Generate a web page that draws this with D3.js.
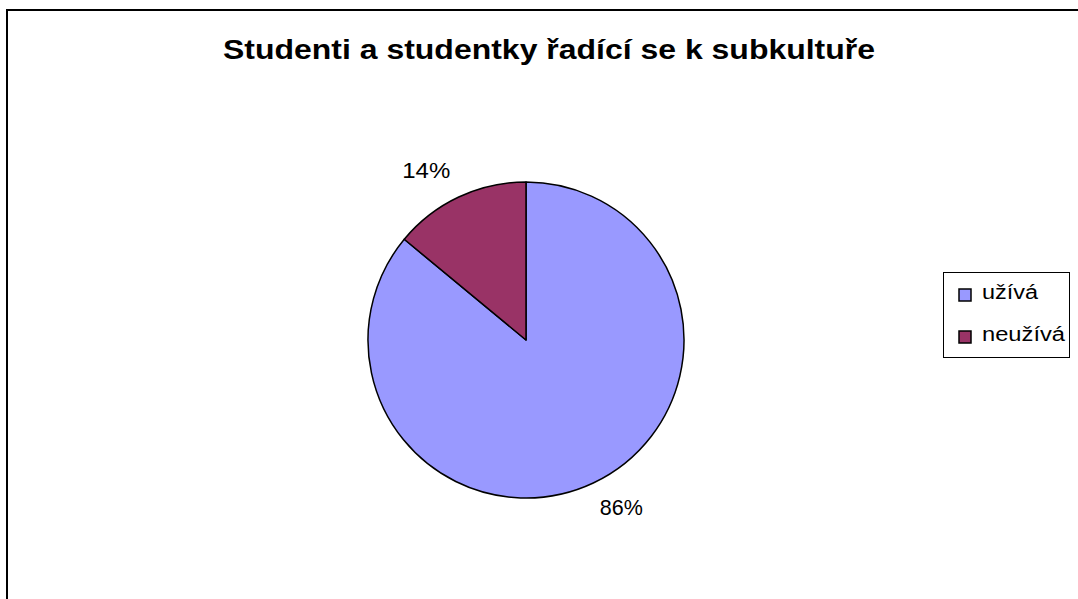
<!DOCTYPE html>
<html><head><meta charset="utf-8">
<script src="https://cdn.jsdelivr.net/npm/d3@7"></script>
<style>body{margin:0;background:#fff}svg{display:block}</style>
</head><body>
<svg id="chart" width="1078" height="599"></svg>
<script>
const title = "Studenti a studentky řadící se k subkultuře";
const categories = ["užívá", "neužívá"];
const values = [86, 14];
const labels = ["86%", "14%"];
const colors = ["#9999FF", "#993366"];

const svg = d3.select("#chart");
const font = "Arial, 'Liberation Sans', sans-serif";

// outer chart border (only top and left edges are inside the picture)
svg.append("path").attr("d", "M7,700 V10 H1100")
  .attr("fill", "none").attr("stroke", "#000").attr("stroke-width", 2);

svg.append("text").attr("x", 223).attr("y", 59)
  .attr("font-family", font).attr("font-weight", "bold").attr("font-size", 27)
  .attr("textLength", 652).attr("lengthAdjust", "spacingAndGlyphs")
  .text(title);

const cx = 526, cy = 340, r = 158;
const pie = d3.pie().sort(null).value(d => d)(values);
const arc = d3.arc().innerRadius(0).outerRadius(r);
const g = svg.append("g").attr("transform", `translate(${cx},${cy})`);
g.selectAll("path").data(pie).join("path")
  .attr("d", arc).attr("fill", (d, i) => colors[i])
  .attr("stroke", "#000").attr("stroke-width", 1.5).attr("stroke-linejoin", "round");

// percentage labels placed outside the slices
const labelArc = d3.arc().innerRadius(r + 20).outerRadius(r + 20);
const labelWidths = [43, 48];
g.selectAll("text.lbl").data(pie).join("text").attr("class", "lbl")
  .each(function (d, i) {
    const [x, y] = labelArc.centroid(d);
    const w = labelWidths[i];
    const sx = x < 0 ? x - w : x - 2;
    const ly = y < 0 ? y - 1 : y + 14;
    d3.select(this).attr("x", sx).attr("y", ly)
      .attr("textLength", w).attr("lengthAdjust", "spacingAndGlyphs");
  })
  .attr("font-family", font).attr("font-size", 22).text((d, i) => labels[i]);

// legend
const lg = svg.append("g");
lg.append("rect").attr("x", 943.5).attr("y", 272.5).attr("width", 126).attr("height", 85)
  .attr("fill", "#fff").attr("stroke", "#000").attr("stroke-width", 1);
const legendWidths = [56, 83];
const items = lg.selectAll("g.item").data(categories).join("g").attr("class", "item")
  .attr("transform", (d, i) => `translate(959, ${289 + i * 42})`);
items.append("rect").attr("width", 12).attr("height", 12)
  .attr("fill", (d, i) => colors[i]).attr("stroke", "#000").attr("stroke-width", 1.5);
items.append("text").attr("x", 23).attr("y", 10).attr("font-family", font)
  .attr("font-size", 20).attr("textLength", (d, i) => legendWidths[i])
  .attr("lengthAdjust", "spacingAndGlyphs").text(d => d);
</script>
</body></html>
